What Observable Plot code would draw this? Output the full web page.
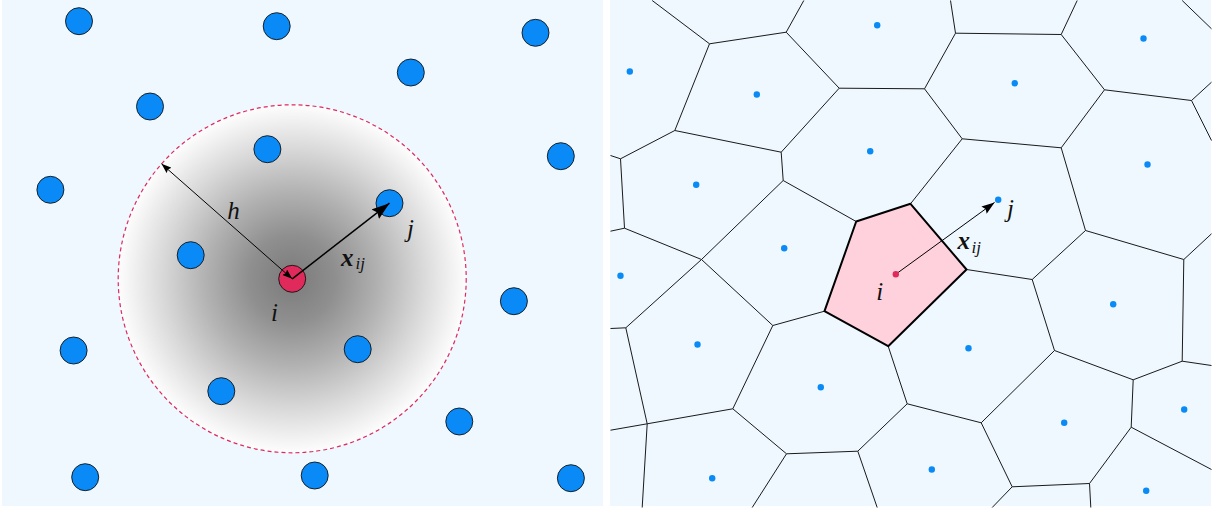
<!DOCTYPE html>
<html><head><meta charset="utf-8">
<script src="https://cdn.jsdelivr.net/npm/d3@7"></script>
<script src="https://cdn.jsdelivr.net/npm/@observablehq/plot@0.6"></script>
<style>html,body{margin:0;padding:0;background:#fff;} #chart svg{display:block;}</style>
</head><body><div id="chart"></div>
<script>
// ---------- panels ----------
const panelX1 = [2, 610];
const panelX2 = [603, 1211];
const panelY1 = [0, 0];
const panelY2 = [506, 506];

// ---------- left panel: SPH particles ----------
const sphX = [78.5, 276.2, 535, 410.3, 149.5, 266.9, 560.3, 49.9, 389, 190.2, 513.4, 73.1, 357.2, 220.8, 458.8, 84.7, 314.2, 570.4];
const sphY = [20.7, 25.7, 32.3, 72, 106, 148.7, 155.7, 189.3, 202.7, 254.7, 300.7, 350, 348.7, 390.7, 421, 476.7, 475, 477.7];
const sphI = [291.7, 278.3];          // particle i
const sphJ = [389, 202.7];            // particle j
const kernelH = 174;                  // smoothing length h
const hEnd = [161, 163.3];            // end of the h radius arrow on the kernel edge

// ---------- right panel: Voronoi mesh ----------
const dotX = [876.7, 629.3, 756.3, 869.7, 695.7, 783.7, 1143, 1014.3, 1147, 997.7, 620, 697, 820.3, 711.7, 1112.7, 968, 1183.7, 1063.7, 931.3, 1145.7];
const dotY = [24.7, 71, 94, 150.7, 184.3, 247.7, 38, 82.7, 164, 199.3, 275.3, 344, 386.7, 477.7, 303.7, 347.7, 409, 422.3, 469, 490.3];
const meshI = [895.3, 273.7];
const meshJ = [997.7, 199.3];

const vName = ["A","B","C","D","E","F","G","H","I","J","K","L","M","N","O","P","Q","R","S","T","U","V","W","X","Y","Z","AA","AB","AC","AD","AE","AF","AG","AH","P1","P2","P3","P4",
  "b1","b2","b3","b4","b5","b6","b7","b8","b9","b9e","b10","b11","b12","b13","b14","b15","b16","b17","b18","b19"];
const vX = [709, 785.7, 838.7, 674.3, 780.7, 620, 624, 782.7, 701, 855.7, 955, 1060.7, 924, 961.7, 1060.7, 1104, 1191, 1085, 1183.3, 1181.7, 1031.7, 1054, 1132.7, 1130.7, 1089, 1011.7, 980.7, 625.3, 646.7, 732.3, 772.3, 786, 857.3, 906.7, 910, 966, 887.7, 824,
  651.7, 803.3, 610, 610, 950, 1076.7, 1211, 1211, 1181.7, 1211, 1211, 1211, 1211, 1090.3, 991.7, 610, 610, 641.7, 751.7, 876.7];
const vY = [43.3, 31.7, 87.7, 130, 151.7, 158.3, 227.7, 180, 259, 221, 32.7, 34, 88.3, 138.3, 147.3, 89.3, 100, 230, 259, 360.7, 279, 350, 379.3, 426.7, 483, 486.3, 422.3, 327.3, 423.3, 408.3, 325, 453.3, 450.7, 403.3, 203.3, 269, 345.7, 310.7,
  0, 0, 155, 230.7, 0, 0, 81.7, 140, 0, 28.3, 233.3, 365, 469, 507, 507, 328, 429.7, 507, 507, 507];
const edgeFrom = ["b1","A","B","B","C","A","D","C","D","F","F","G","G","E","H","H","I","I","K","K","L","K","M","N","L","P","P","Q","Q","b9","N","O","R","R","S","S","P2","U","V","W","T","W","X","X","Y","Y","Z","Z","AA","AA","P3","AE","AB","AB","AC","AC","AC","AE","AD","AF","AF","AG","AG"];
const edgeTo   = ["A","B","b2","C","M","D","E","E","F","b3","G","b4","I","H","I","J","AB","AE","b5","L","b6","M","N","O","P","O","Q","b7","b8","b9e","P1","R","U","S","b10","T","U","V","W","T","b11","X","b12","Y","b13","Z","b14","AA","V","AH","AH","P4","b15","AC","b16","b17","AD","AD","AF","b18","AG","b19","AH"];
const cellI = ["J","P1","P2","P3","P4"];  // Voronoi cell of particle i

// ---------- labels ----------
const labelText = ["h", "j", "i", "j", "i"];
const labelX = [233, 410, 274, 1010, 879.3];
const labelY = [210, 228, 312, 208.3, 291.7];
const xijX = [346.7, 963.3];
const xijY = [257.3, 240];
const subX = [355, 971];
const subY = [263.5, 247.3];

// ---------- build tables ----------
const panels = panelX1.map((x, k) => ({x1: x, x2: panelX2[k], y1: panelY1[k], y2: panelY2[k]}));
const sph = sphX.map((x, k) => ({x, y: sphY[k]}));
const dots = dotX.map((x, k) => ({x, y: dotY[k]}));
const V = new Map(vName.map((n, k) => [n, [vX[k], vY[k]]]));
const edges = edgeFrom.map((a, k) => ({x1: V.get(a)[0], y1: V.get(a)[1], x2: V.get(edgeTo[k])[0], y2: V.get(edgeTo[k])[1]}));
const cell = cellI.map(n => ({x: V.get(n)[0], y: V.get(n)[1]}));
const labels = labelText.map((t, k) => ({t, x: labelX[k], y: labelY[k]}));
const xij = xijX.map((x, k) => ({x, y: xijY[k], sx: subX[k], sy: subY[k]}));

// right-panel arrow stops a little short of j
const dxm = meshJ[0] - meshI[0], dym = meshJ[1] - meshI[1], Lm = Math.hypot(dxm, dym);
const meshTip = [meshJ[0] - 4.5 * dxm / Lm, meshJ[1] - 4.5 * dym / Lm];

function arrowMarker(len, wid, orient) {
  return (color) => {
    const m = d3.create("svg:marker")
      .attr("viewBox", `0 ${-wid} ${len} ${2 * wid}`)
      .attr("refX", len).attr("refY", 0)
      .attr("markerWidth", len).attr("markerHeight", 2 * wid)
      .attr("markerUnits", "userSpaceOnUse")
      .attr("orient", orient);
    m.append("path")
      .attr("d", `M0,${-wid}L${len},0L0,${wid}L${len * 0.15},0Z`)
      .attr("fill", "#000").attr("stroke", "none");
    return m.node();
  };
}

const blue = "#0a8af6", red = "#df2a5b", bg = "#eef8fe";

const chart = Plot.plot({
  width: 1213, height: 508, margin: 0,
  style: {background: "#fff"},
  x: {domain: [0, 1213], range: [0, 1213], axis: null},
  y: {domain: [0, 508], range: [0, 508], axis: null},
  marks: [
    Plot.rect(panels, {x1: "x1", x2: "x2", y1: "y1", y2: "y2", fill: bg}),
    // SPH kernel
    Plot.dot([sphI], {x: d => d[0], y: d => d[1], r: kernelH, fill: "url(#kernelGrad)", stroke: "none"}),
    Plot.dot([sphI], {x: d => d[0], y: d => d[1], r: kernelH, fill: "none", stroke: red, strokeWidth: 1.2, strokeDasharray: "4,3"}),
    Plot.dot(sph, {x: "x", y: "y", r: 13.5, fill: blue, stroke: "#111", strokeWidth: 0.9}),
    Plot.dot([sphI], {x: d => d[0], y: d => d[1], r: 13.5, fill: red, stroke: "#111", strokeWidth: 0.9}),
    Plot.link([{a: sphI, b: hEnd}], {x1: d => d.a[0], y1: d => d.a[1], x2: d => d.b[0], y2: d => d.b[1], stroke: "#000", strokeWidth: 1,
      markerStart: arrowMarker(10, 3.6, "auto-start-reverse"), markerEnd: arrowMarker(10, 3.6, "auto")}),
    Plot.link([{a: sphI, b: sphJ}], {x1: d => d.a[0], y1: d => d.a[1], x2: d => d.b[0], y2: d => d.b[1], stroke: "#000", strokeWidth: 1.5,
      markerEnd: arrowMarker(18, 6, "auto")}),
    // Voronoi mesh
    Plot.line(cell, {x: "x", y: "y", curve: "linear-closed", fill: "#ffd1dd", stroke: "none"}),
    Plot.link(edges, {x1: "x1", y1: "y1", x2: "x2", y2: "y2", stroke: "#1a1a1a", strokeWidth: 1}),
    Plot.line(cell, {x: "x", y: "y", curve: "linear-closed", fill: "none", stroke: "#000", strokeWidth: 2}),
    Plot.dot(dots, {x: "x", y: "y", r: 3.2, fill: blue, stroke: "none"}),
    Plot.link([{a: meshI, b: meshTip}], {x1: d => d.a[0], y1: d => d.a[1], x2: d => d.b[0], y2: d => d.b[1], stroke: "#000", strokeWidth: 1,
      markerEnd: arrowMarker(13, 4.5, "auto")}),
    Plot.dot([meshI], {x: d => d[0], y: d => d[1], r: 3.2, fill: red, stroke: "none"}),
    // labels
    Plot.text(labels, {x: "x", y: "y", text: "t", fontFamily: "Liberation Serif", fontStyle: "italic", fontSize: 25, fill: "#111", textAnchor: "middle", lineAnchor: "middle"}),
    Plot.text(xij, {x: "x", y: "y", text: () => "x", fontFamily: "Liberation Serif", fontStyle: "italic", fontWeight: "bold", fontSize: 25, fill: "#111", textAnchor: "middle", lineAnchor: "middle"}),
    Plot.text(xij, {x: "sx", y: "sy", text: () => "ij", fontFamily: "Liberation Serif", fontStyle: "italic", fontSize: 17, fill: "#111", textAnchor: "start", lineAnchor: "middle"})
  ]
});

const defs = d3.select(chart).insert("defs", ":first-child");
const g = defs.append("radialGradient").attr("id", "kernelGrad").attr("cx", "50%").attr("cy", "50%").attr("r", "50%");
[[0, "#7a7a7a"], [0.25, "#8f8f8f"], [0.5, "#b2b2b2"], [0.75, "#d9d9d9"], [0.92, "#f2f2f2"], [1, "#fdfdfd"]]
  .forEach(([o, c]) => g.append("stop").attr("offset", o).attr("stop-color", c));

document.getElementById("chart").appendChild(chart);
</script></body></html>
